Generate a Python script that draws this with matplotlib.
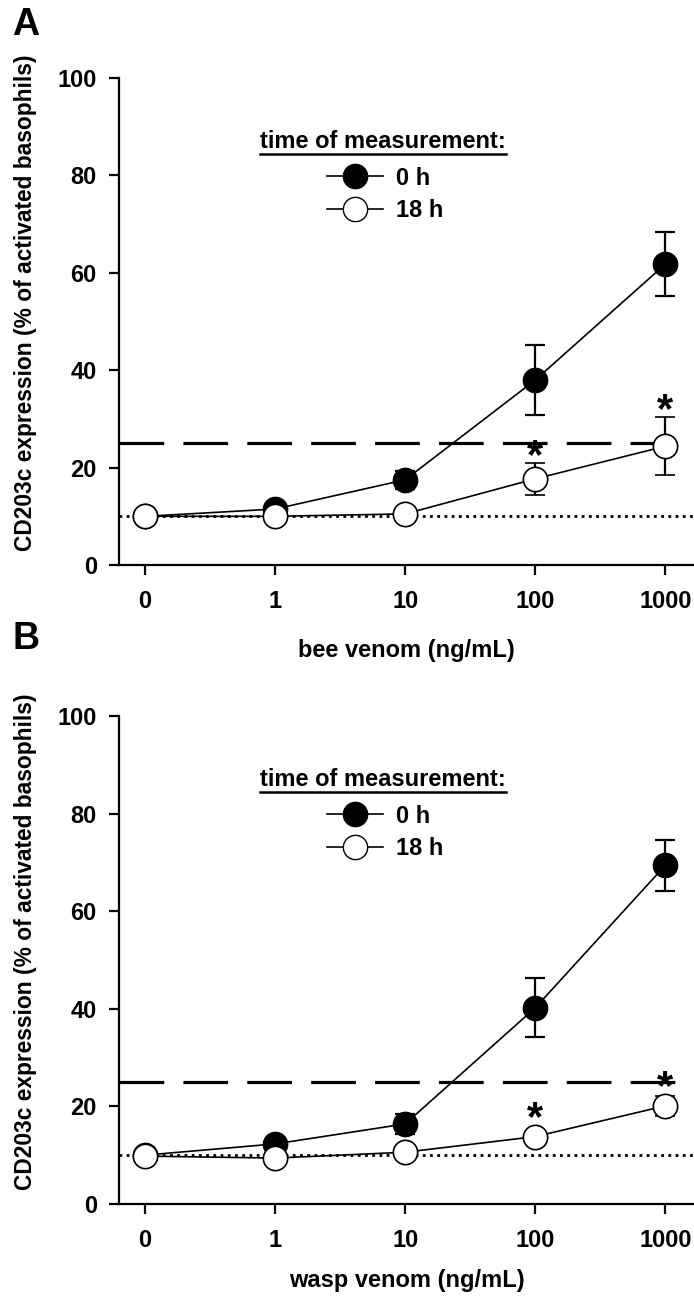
import matplotlib
matplotlib.use("Agg")
import matplotlib.pyplot as plt
from matplotlib.lines import Line2D
import numpy as np

plt.rcParams["font.family"] = ["Liberation Sans", "DejaVu Sans"]
plt.rcParams["font.weight"] = "bold"

# dose categories (ng/mL)
doses = ["0", "1", "10", "100", "1000"]

# panel A: bee venom
bee_0h = [10.0, 11.5, 17.5, 38.0, 61.8]
bee_0h_err = [0.5, 1.0, 1.8, 7.2, 6.5]
bee_18h = [10.0, 10.0, 10.5, 17.7, 24.4]
bee_18h_err = [0.5, 0.5, 0.8, 3.3, 6.0]
bee_stars = [3, 4]

# panel B: wasp venom
wasp_0h = [10.0, 12.3, 16.4, 40.2, 69.4]
wasp_0h_err = [0.5, 0.8, 2.0, 6.0, 5.2]
wasp_18h = [9.8, 9.4, 10.6, 13.8, 20.1]
wasp_18h_err = [0.5, 0.5, 0.8, 0.8, 2.0]
wasp_stars = [3, 4]

threshold = 25
baseline = 10

FS = 17

fig = plt.figure(figsize=(6.94, 13.01), dpi=100)
ax_a = fig.add_axes([0.1715, 0.5657, 0.8285, 0.3743])
ax_b = fig.add_axes([0.1715, 0.0746, 0.8285, 0.3751])


def draw_panel(ax, v0, e0, v18, e18, stars, xlabel, xpad):
    x = np.arange(len(doses))
    ax.axhline(threshold, color="black", lw=2.3, dashes=(14, 6), zorder=1)
    ax.axhline(baseline, color="black", lw=2.0, dashes=(1, 1.6), zorder=1)
    ax.errorbar(x, v0, yerr=e0, fmt="-o", color="black", lw=1.2,
                ms=17.5, mfc="black", mec="black", ecolor="black",
                elinewidth=1.6, capsize=7.5, capthick=1.6, zorder=3)
    ax.errorbar(x, v18, yerr=e18, fmt="-o", color="black", lw=1.2,
                ms=17.5, mfc="white", mec="black", mew=1.2, ecolor="black",
                elinewidth=1.6, capsize=7.5, capthick=1.6, zorder=4)
    for i in stars:
        top = v18[i] + max(e18[i], 2.4) + 1.2
        ax.text(x[i], top, "*", ha="center", va="center", fontsize=30,
                fontweight="bold", zorder=5)

    ax.set_xlim(-0.2, 4.22)
    ax.set_ylim(0, 100)
    ax.set_xticks(x)
    ax.set_xticklabels(doses)
    ax.set_yticks([0, 20, 40, 60, 80, 100])
    for side in ("top", "right"):
        ax.spines[side].set_visible(False)
    for side in ("left", "bottom"):
        ax.spines[side].set_linewidth(1.6)
    ax.tick_params(direction="out", length=7, width=1.6, labelsize=FS, pad=9)
    ax.tick_params(axis="x", pad=11)
    ax.set_xlabel(xlabel, fontsize=FS, fontweight="bold", labelpad=xpad)
    ax.set_ylabel("CD203c expression (% of activated basophils)",
                  fontsize=16.4, fontweight="bold")
    ax.yaxis.set_label_coords(-0.143, 0.538)

    handles = [
        Line2D([], [], color="black", lw=1.2, marker="o", ms=17.5, mfc="black", mec="black"),
        Line2D([], [], color="black", lw=1.2, marker="o", ms=17.5, mfc="white", mec="black"),
    ]
    ax.legend(handles, ["0 h", "18 h"], loc="upper left", bbox_to_anchor=(0.362, 0.818),
              frameon=False, fontsize=FS, handlelength=2.35, handletextpad=0.55,
              labelspacing=0.4, borderpad=0, borderaxespad=0)
    ttl = ax.text(0.459, 0.87, "time of measurement:", transform=ax.transAxes,
                  ha="center", va="center", fontsize=FS, fontweight="bold")
    return ttl


titles = [
    draw_panel(ax_a, bee_0h, bee_0h_err, bee_18h, bee_18h_err, bee_stars,
               "bee venom (ng/mL)", 19),
    draw_panel(ax_b, wasp_0h, wasp_0h_err, wasp_18h, wasp_18h_err, wasp_stars,
               "wasp venom (ng/mL)", 12),
]

fig.text(0.018, 0.981, "A", fontsize=27, fontweight="bold", va="center")
fig.text(0.018, 0.509, "B", fontsize=27, fontweight="bold", va="center")

# underline legend titles
fig.canvas.draw()
inv = fig.transFigure.inverted()
for t in titles:
    bb = t.get_window_extent()
    (x0, y0), (x1, _) = inv.transform([[bb.x0, bb.y0], [bb.x1, bb.y1]])
    fig.add_artist(Line2D([x0, x1], [y0 - 0.0005, y0 - 0.0005], color="black",
                          lw=1.8, transform=fig.transFigure))

fig.savefig("out.png", dpi=100, facecolor="white")
